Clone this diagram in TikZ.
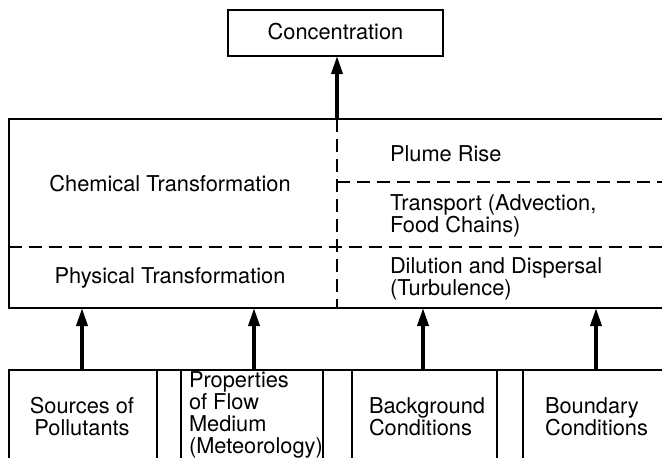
\documentclass[tikz,border=0pt]{standalone}
\usepackage{fontspec}
\setmainfont{TeX Gyre Heros}
\usetikzlibrary{arrows.meta}
\begin{document}
\begin{tikzpicture}[x=0.5pt,y=-0.5pt,
  box/.style={draw, line width=1.2pt, inner sep=0pt, outer sep=0pt, rectangle},
  lbl/.style={inner sep=0pt, outer sep=0pt, font=\fontsize{10.9}{11}\selectfont},
  dsh/.style={line width=1pt, dash pattern=on 6.5pt off 3.5pt},
  arr/.style={line width=1.8pt, -{Triangle[length=9pt,width=5.5pt]}}]
\useasboundingbox (0,0) rectangle (662,457);
\clip (0,0) rectangle (662,457);
% boxes
\node[box, minimum width=107.5pt, minimum height=23pt] (conc) at (335.5,33) {};
\node[box, minimum width=355.5pt, minimum height=94.5pt] (main) at (364.5,213.5) {};
\node[box, minimum width=74pt, minimum height=55pt] (S) at (83,425) {};
\node[box, minimum width=71pt, minimum height=55pt] (P) at (252,425) {};
\node[box, minimum width=72.5pt, minimum height=55pt] (B) at (424.5,425) {};
\node[box, minimum width=98.5pt, minimum height=55pt] (D) at (621.5,425) {};
\draw[line width=1.2pt] (S.north west) -- (D.north east);
% coordinates
\coordinate (m1) at (337,119);
\coordinate (m2) at (337,308);
\coordinate (h1) at (9,247);
\coordinate (h2) at (662,247);
\coordinate (g1) at (337,182);
\coordinate (g2) at (662,182);
\coordinate (a1) at (82,370);
\coordinate (a2) at (254,370);
\coordinate (a3) at (423,370);
\coordinate (a4) at (596,370);
% dashed dividers
\draw[dsh] (m1) -- (m2);
\draw[dsh] (h1) -- (h2);
\draw[dsh] (g1) -- (g2);
% arrows
\draw[arr] (m1) -- (m1 |- conc.south);
\draw[arr] (a1) -- (a1 |- main.south);
\draw[arr] (a2) -- (a2 |- main.south);
\draw[arr] (a3) -- (a3 |- main.south);
\draw[arr] (a4) -- (a4 |- main.south);
% labels
\node[lbl] (tconc) at (335.5,32) {Concentration};
\node[lbl] (tchem) at (170,184) {Chemical Transformation};
\node[lbl] (tphys) at (170,278) {Physical Transformation};
\node[lbl, anchor=west] (tplume) at (390,154) {Plume Rise};
\node[lbl, anchor=west, align=left] (ttrans) at (390,216) {Transport (Advection,\\Food Chains)};
\node[lbl, anchor=west, align=left] (tdil) at (390,279) {Dilution and Dispersal\\(Turbulence)};
\node[lbl, align=center] (tS) at (82,417) {Sources of\\Pollutants};
\node[lbl, anchor=west, align=left] (tP) at (189,415) {Properties\\of Flow\\Medium\\(Meteorology)};
\node[lbl, anchor=west, align=left] (tB) at (369,417) {Background\\Conditions};
\node[lbl, anchor=west, align=left] (tD) at (545,417) {Boundary\\Conditions};
\end{tikzpicture}
\end{document}
